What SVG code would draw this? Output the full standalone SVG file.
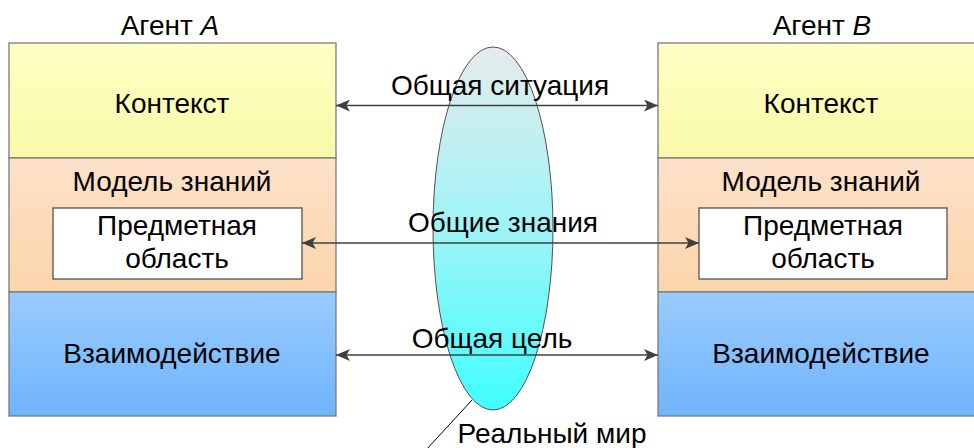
<svg xmlns="http://www.w3.org/2000/svg" width="974" height="448" viewBox="0 0 974 448">
  <style>
    text { font-family: "Liberation Sans", Arial, sans-serif; font-size: 28px; fill: #000; text-anchor: middle; }
    .layer { stroke: #7a7a7a; stroke-width: 1.3; }
    .inner { fill: #fff; stroke: #505050; stroke-width: 1.3; }
    .arrow { stroke: #404040; stroke-width: 1.5; fill: none; marker-start: url(#head); marker-end: url(#head); }
  </style>
  <defs>
    <linearGradient id="gYellow" x1="0" y1="0" x2="0" y2="1">
      <stop offset="0" stop-color="#ffffc6"/>
      <stop offset="1" stop-color="#f9f9a8"/>
    </linearGradient>
    <linearGradient id="gPeach" x1="0" y1="0" x2="0" y2="1">
      <stop offset="0" stop-color="#fde1c9"/>
      <stop offset="1" stop-color="#fbd5ab"/>
    </linearGradient>
    <linearGradient id="gBlue" x1="0" y1="0" x2="0" y2="1">
      <stop offset="0" stop-color="#9acbff"/>
      <stop offset="1" stop-color="#6fb4fb"/>
    </linearGradient>
    <linearGradient id="gLens" x1="0" y1="0" x2="0" y2="1">
      <stop offset="0" stop-color="#e6ebeb"/>
      <stop offset="0.5" stop-color="#9ef4f6"/>
      <stop offset="1" stop-color="#40ffff"/>
    </linearGradient>
    <marker id="head" viewBox="0 0 14 12" refX="14" refY="6" markerWidth="14" markerHeight="12" markerUnits="userSpaceOnUse" orient="auto-start-reverse">
      <path d="M0,0 L14,6 L0,12 L3.5,6 Z" fill="#404040"/>
    </marker>
  </defs>

  <!-- Agent A -->
  <g id="agent-a">
    <text x="170" y="35">Агент <tspan font-style="italic">A</tspan></text>
    <rect class="layer" x="9" y="43" width="327" height="115" fill="url(#gYellow)"/>
    <rect class="layer" x="9" y="158" width="327" height="134" fill="url(#gPeach)"/>
    <rect class="layer" x="9" y="292" width="327" height="124" fill="url(#gBlue)"/>
    <text x="172" y="113">Контекст</text>
    <text x="172" y="191">Модель знаний</text>
    <rect class="inner" x="53" y="208" width="249" height="71"/>
    <text x="177" y="235">Предметная</text>
    <text x="177" y="268">область</text>
    <text x="172" y="363">Взаимодействие</text>
  </g>

  <!-- Agent B -->
  <g id="agent-b">
    <text x="822" y="35">Агент <tspan font-style="italic">B</tspan></text>
    <rect class="layer" x="658" y="43" width="327" height="115" fill="url(#gYellow)"/>
    <rect class="layer" x="658" y="158" width="327" height="134" fill="url(#gPeach)"/>
    <rect class="layer" x="658" y="292" width="327" height="124" fill="url(#gBlue)"/>
    <text x="821" y="113">Контекст</text>
    <text x="821" y="191">Модель знаний</text>
    <rect class="inner" x="699" y="208" width="248" height="71"/>
    <text x="823" y="235">Предметная</text>
    <text x="823" y="268">область</text>
    <text x="821" y="363">Взаимодействие</text>
  </g>

  <!-- Real world lens -->
  <g id="real-world">
    <ellipse cx="493" cy="228.5" rx="60" ry="181.5" fill="url(#gLens)" stroke="#505050" stroke-width="1"/>
    <line x1="472" y1="400" x2="426" y2="450" stroke="#000" stroke-width="1"/>
    <text x="552" y="443">Реальный мир</text>
  </g>

  <!-- Connectors -->
  <g id="connectors">
    <line class="arrow" x1="336" y1="105.5" x2="658" y2="105.5"/>
    <line class="arrow" x1="302" y1="243" x2="699" y2="243"/>
    <line class="arrow" x1="336" y1="355" x2="658" y2="355"/>
    <text x="500" y="95">Общая ситуация</text>
    <text x="503" y="232">Общие знания</text>
    <text x="492" y="348">Общая цель</text>
  </g>
</svg>
